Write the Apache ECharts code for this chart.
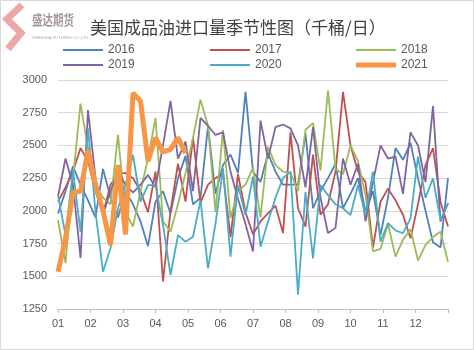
<!DOCTYPE html>
<html><head><meta charset="utf-8">
<script src="https://cdn.jsdelivr.net/npm/echarts@6/dist/echarts.min.js"></script>
<style>html,body{margin:0;padding:0;background:#fff}#c{width:474px;height:350px}</style>
</head><body><div id="c"></div>
<script>
const weeks = [1,2,3,4,5,6,7,8,9,10,11,12,13,14,15,16,17,18,19,20,21,22,23,24,25,26,27,28,29,30,31,32,33,34,35,36,37,38,39,40,41,42,43,44,45,46,47,48,49,50,51,52,53];
const monthLabels = ['01','02','03','04','05','06','07','08','09','10','11','12'];
const years = ['2016','2017','2018','2019','2020','2021'];
const y2016 = [1980,2150,2340,2200,2080,1950,2320,2100,1950,2150,2050,1920,1730,2070,2150,1980,2250,2420,2050,2100,2650,2130,2350,2430,2290,2910,2300,2220,2440,2300,2200,2200,2200,2590,2020,2150,2250,2360,2020,2130,2250,2000,2150,1815,2100,2480,2390,2520,2250,2000,1760,1720,2250];
const y2017 = [2070,2180,2300,2480,2380,2150,1980,2200,2280,2290,2250,2150,1990,2300,1460,2000,2360,2070,2560,2060,2200,2250,2290,1800,2280,1990,1820,1920,1980,2040,1830,2600,2020,1880,2430,1970,2050,2300,2910,2500,2300,2220,1720,2070,2170,2080,1970,1790,2050,2350,2480,2070,1880];
const y2018 = [1930,1600,2250,2820,2480,2200,2100,2050,2580,1990,1880,2150,2400,2710,1920,1840,2050,2290,2560,2850,2650,1990,2618,1945,2150,2200,2330,1950,2490,2350,2300,2290,2150,2620,2670,2310,2920,2320,2280,2500,2380,2120,1690,1710,1900,1650,1780,1860,1620,1740,1800,1840,1610];
const y2019 = [2110,2400,2200,1640,2770,2250,1970,2150,2300,2200,2140,2200,2275,2180,2500,2840,2400,2530,2150,2710,2650,2580,2600,2300,2090,1900,1690,2690,2400,2640,2660,2630,2500,2180,2640,2100,1830,1870,2400,2200,2360,1920,2220,2500,2400,2414,2130,2600,2500,2220,2800,1920,2060];
const y2020 = [2120,1815,2310,1840,2630,1990,1535,1716,2020,2200,2427,2070,2197,2197,1892,1510,1815,1764,1802,2080,1560,1900,2325,1650,2197,1968,2261,1726,1917,2100,2250,2300,1360,2146,1637,2197,2120,2050,2020,1968,2197,1968,2300,1764,1907,1850,1830,1943,2414,2100,2248,1930,2057];
const y2021 = [1535,1790,2140,2150,2460,2200,2000,1740,2350,1820,2900,2840,2380,2560,2450,2470,2560,2440];
const yTicks = [1250,1500,1750,2000,2250,2500,2750,3000];

const values = [y2016,y2017,y2018,y2019,y2020,y2021];
const colors = ['#4F81BD','#C0504D','#9BBB59','#8064A2','#4BACC6','#F79646'];
const toPts = arr => arr.map((v,i)=>[(weeks[i]-1)*12/52, v]);

const legendPos = [[63,44],[210,44],[356,44],[63,59],[210,59],[356,59]];
const chart = echarts.init(document.getElementById('c'), null, {renderer:'canvas'});
chart.setOption({
  animation:false,
  backgroundColor:'#fff',
  title:{text:'美国成品油进口量季节性图（千桶/日）', left:90, top:19, padding:0,
    textStyle:{fontSize:17, fontWeight:'normal', color:'#404040', fontFamily:'Noto Sans CJK SC'}},
  legend: years.map((y,i)=>{
    const h = y==='2021' ? 5 : 2;
    return {data:[y], left:legendPos[i][0], top:legendPos[i][1], padding:0, icon:'rect',
      itemWidth:40, itemHeight:h, textStyle:{fontSize:12, color:'#595959', fontFamily:'Liberation Sans'}};
  }),
  grid:{left:58, right:26, top:80, bottom:41, containLabel:false},
  xAxis:{type:'value', min:0, max:12, interval:1,
    axisLine:{show:true, lineStyle:{color:'#bfbfbf', width:1}},
    axisTick:{show:true, length:4, lineStyle:{color:'#bfbfbf'}},
    splitLine:{show:false},
    axisLabel:{margin:9, fontSize:11, color:'#595959', fontFamily:'Liberation Sans',
      formatter:v=> v<12 ? monthLabels[v] : ''}},
  yAxis:{type:'value', min:yTicks[0], max:yTicks[yTicks.length-1], interval:250,
    axisLine:{show:false}, axisTick:{show:false},
    splitLine:{lineStyle:{color:'#d9d9d9', width:1}},
    axisLabel:{margin:11, fontSize:11, color:'#595959', fontFamily:'Liberation Sans', formatter:v=>String(v)}},
  graphic:[
    {type:'rect', shape:{x:0.5,y:0.5,width:473,height:349}, style:{fill:'none', stroke:'#d9d9d9', lineWidth:1}, silent:true},
    {type:'polyline', shape:{points:[[22,5],[7,19],[21,33],[8,49]]}, style:{stroke:'#e58a8a', lineWidth:7, fill:'none', opacity:0.75}, silent:true},
    {type:'text', x:32, y:13, scaleX:0.75, style:{text:'盛达期货', fontSize:14, fontWeight:'bold', fill:'#a89898', fontFamily:'Noto Sans CJK SC'}, silent:true},
    {type:'text', x:32, y:36, style:{text:'SHENGDA FUTURES CO.,LTD', fontSize:4, fill:'#b0a8a8'}, silent:true}
  ],
  series: years.map((y,i)=>({
    name:y, type:'line', data:toPts(values[i]), symbol:'none', showSymbol:false,
    lineStyle:{color:colors[i], width: y==='2021'?5:1.8}, itemStyle:{color:colors[i]},
    z: y==='2021'?10:2
  }))
});
</script></body></html>
